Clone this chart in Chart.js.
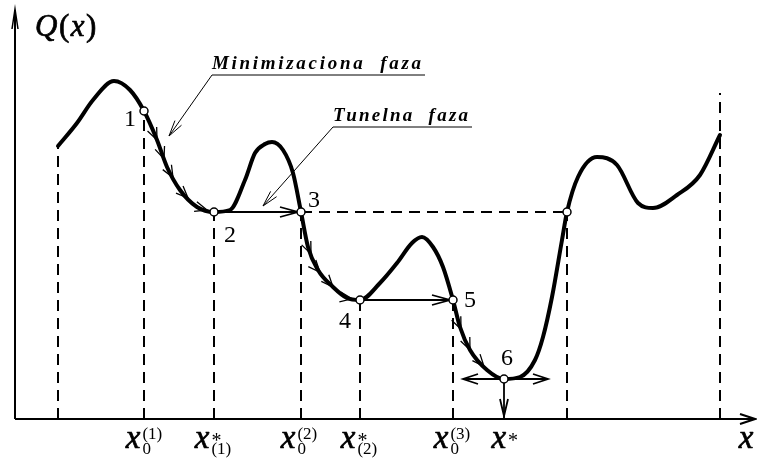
<!DOCTYPE html>
<html>
<head>
  <title>Q(x)</title>
  <style>
    body {
      margin: 0;
      overflow: hidden;
      background: #ffffff;
    }
    #chart-container {
      width: 757px;
      height: 459px;
    }
  </style>
</head>
<body>
  <div id="chart-container">
    <canvas id="chart"></canvas>
  </div>
  <script src="https://cdn.jsdelivr.net/npm/chart.js"></script>
  <script>
    // curve Q(x) (x from the Q axis, Q up from the x axis)
    const curveX = [43, 62, 78, 99, 115, 129, 142, 152, 165, 182, 199, 215, 230, 240, 250, 257, 268, 278, 286, 293, 303, 318, 332, 345, 365, 382, 397, 407, 418, 428, 438, 445, 455, 472, 489, 505, 520, 528, 537, 547, 552, 563, 582, 602, 623, 638, 662, 685, 705];
    const curveQ = [273, 296, 319, 338, 329, 308, 279, 252, 229, 212, 207, 209, 239, 266, 275, 277, 269, 246, 207, 172, 149, 132, 121, 119, 136, 156, 176, 182, 172, 152, 119, 92, 69, 49, 40, 42, 59, 82, 122, 179, 207, 242, 262, 254, 216, 211, 224, 244, 284];

    // points 1..6 and the point on the far slope
    const markX = [129, 199, 286, 345, 438, 489, 552];
    const markQ = [308, 207, 207, 119, 119, 40, 207];
    const markNames = ['1', '2', '3', '4', '5', '6'];
    const nameX = [115, 215, 299, 330, 455, 492];
    const nameQ = [301, 185, 220, 99, 120, 62];

    // dashed verticals
    const guideX = [43, 129, 199, 286, 345, 438, 552, 705];
    const guideTop = [273, 308, 207, 207, 119, 119, 207, 326];

    // x axis labels
    const tickX = [129, 198, 284, 344, 437, 489];
    const tickSup = ['(1)', '*', '(2)', '*', '(3)', '*'];
    const tickSub = ['0', '(1)', '0', '(2)', '0', ''];

    // little arrows along the descending parts
    const stepX = [142, 149, 158, 173, 192, 296, 305, 318, 337, 446, 455, 469];

    const guideData = [];
    guideX.forEach((gx, i) => {
      guideData.push({ x: gx, y: 0 }, { x: gx, y: guideTop[i] }, { x: gx, y: null });
    });

    const black = '#000000';
    const mathFont = 'italic 33px "Liberation Serif"';
    const smallFont = '17px "Liberation Serif"';

    function arrowHead(ctx, tx, ty, ang, len, half) {
      const c = Math.cos(ang), s = Math.sin(ang);
      ctx.beginPath();
      ctx.moveTo(tx - len * c - half * s, ty - len * s + half * c);
      ctx.lineTo(tx, ty);
      ctx.lineTo(tx - len * c + half * s, ty - len * s - half * c);
      ctx.stroke();
    }

    function line(ctx, x1, y1, x2, y2) {
      ctx.beginPath();
      ctx.moveTo(x1, y1);
      ctx.lineTo(x2, y2);
      ctx.stroke();
    }

    // slightly heavier glyphs, like the original math font
    function heavyText(ctx, s, x, y) {
      ctx.fillText(s, x, y);
      ctx.lineWidth = 0.7;
      ctx.strokeText(s, x, y);
    }

    const drawing = {
      id: 'drawing',
      beforeDatasetsDraw(chart) {
        const { ctx, scales: { x, y } } = chart;
        const px = v => x.getPixelForValue(v);
        const py = v => y.getPixelForValue(v);
        ctx.save();
        ctx.strokeStyle = black;
        ctx.lineCap = 'butt';

        // axes
        ctx.lineWidth = 2;
        line(ctx, px(0), py(0), px(739), py(0));
        arrowHead(ctx, px(740), py(0), 0, 15, 5);
        line(ctx, px(0), py(0), px(0), py(409));
        ctx.lineWidth = 1.5;
        arrowHead(ctx, px(0), py(410), -Math.PI / 2, 20, 3);

        // tunnelling arrows
        ctx.lineWidth = 1.8;
        line(ctx, px(markX[1]), py(markQ[1]), px(markX[2]), py(markQ[2]));
        arrowHead(ctx, px(markX[2]) - 3, py(markQ[2]), 0, 18, 5);
        line(ctx, px(markX[3]), py(markQ[3]), px(markX[4]), py(markQ[4]));
        arrowHead(ctx, px(markX[4]) - 3, py(markQ[4]), 0, 18, 5);

        // arrows around the global minimum
        line(ctx, px(markX[5] - 41), py(markQ[5]), px(markX[5] + 44), py(markQ[5]));
        arrowHead(ctx, px(markX[5] - 41), py(markQ[5]), Math.PI, 15, 5);
        arrowHead(ctx, px(markX[5] + 44), py(markQ[5]), 0, 15, 5);
        line(ctx, px(markX[5]), py(markQ[5]), px(markX[5]), py(0));
        arrowHead(ctx, px(markX[5]), py(3), Math.PI / 2, 17, 4);

        // small arrows on the curve
        ctx.lineWidth = 1.3;
        stepX.forEach(sx => {
          let i = 0;
          while (i < curveX.length - 2 && curveX[i + 1] < sx) i++;
          const x1 = px(curveX[i]), y1 = py(curveQ[i]);
          const x2 = px(curveX[i + 1]), y2 = py(curveQ[i + 1]);
          const t = (px(sx) - x1) / (x2 - x1);
          const ang = Math.atan2(y2 - y1, x2 - x1);
          arrowHead(ctx, x1 + t * (x2 - x1), y1 + t * (y2 - y1), ang, 12, 5);
        });
        ctx.restore();
      },
      afterDatasetsDraw(chart) {
        const { ctx, scales: { x, y } } = chart;
        const px = v => x.getPixelForValue(v);
        const py = v => y.getPixelForValue(v);
        ctx.save();
        ctx.fillStyle = black;
        ctx.strokeStyle = black;
        ctx.textBaseline = 'alphabetic';

        // Q(x)
        let cx = px(20);
        const qy = py(383);
        [['Q', 'italic'], ['(', 'normal'], ['x', 'italic'], [')', 'normal']].forEach(([s, st]) => {
          ctx.font = st + ' 31px "Liberation Serif"';
          heavyText(ctx, s, cx, qy);
          cx += ctx.measureText(s).width + 1.5;
        });

        // phase notes
        const notes = [
          { text: 'Minimizaciona  faza', x: 197, q: 350, end: 410, uq: 344, tx: 154, tq: 283 },
          { text: 'Tunelna  faza', x: 318, q: 298, end: 457, uq: 292, tx: 248, tq: 213 }
        ];
        notes.forEach(n => {
          ctx.font = 'italic bold 19px "Liberation Serif"';
          const target = px(n.end) - px(n.x) - 4;
          const w = ctx.measureText(n.text).width;
          ctx.letterSpacing = ((target - w) / (n.text.length - 1)).toFixed(2) + 'px';
          ctx.fillText(n.text, px(n.x), py(n.q));
          ctx.letterSpacing = '0px';
          ctx.lineWidth = 1;
          line(ctx, px(n.x), py(n.uq), px(n.end), py(n.uq));
          line(ctx, px(n.x), py(n.uq), px(n.tx), py(n.tq));
          const ang = Math.atan2(py(n.tq) - py(n.uq), px(n.tx) - px(n.x));
          arrowHead(ctx, px(n.tx), py(n.tq), ang, 16, 4);
        });

        // point numbers
        ctx.font = '24px "Liberation Serif"';
        ctx.textAlign = 'center';
        markNames.forEach((m, i) => {
          ctx.fillText(m, px(nameX[i]), py(nameQ[i]) + 8);
        });

        // tick labels
        ctx.textAlign = 'left';
        tickX.forEach((tx, i) => {
          ctx.font = mathFont;
          const wx = ctx.measureText('x').width;
          ctx.font = smallFont;
          const wSup = ctx.measureText(tickSup[i]).width;
          const wSub = ctx.measureText(tickSub[i]).width;
          const total = wx + 2 + Math.max(wSup, wSub);
          const left = px(tx) - total / 2;
          ctx.font = mathFont;
          heavyText(ctx, 'x', left, py(-29));
          ctx.font = tickSup[i] === '*' ? '20px "Liberation Serif"' : smallFont;
          ctx.fillText(tickSup[i], left + wx + 2, py(tickSup[i] === '*' ? -28 : -20));
          ctx.font = smallFont;
          ctx.fillText(tickSub[i], left + wx + 2, py(-35));
        });

        ctx.font = mathFont;
        ctx.textAlign = 'center';
        heavyText(ctx, 'x', px(731), py(-29));
        ctx.restore();
      }
    };

    const chart = new Chart(document.getElementById('chart'), {
      type: 'line',
      data: {
        datasets: [{
          label: 'points',
          data: markX.map((mx, i) => ({ x: mx, y: markQ[i] })),
          showLine: false,
          pointRadius: 4,
          pointBackgroundColor: '#ffffff',
          pointBorderColor: black,
          pointBorderWidth: 1.5
        }, {
          label: 'Q(x)',
          data: curveX.map((cx, i) => ({ x: cx, y: curveQ[i] })),
          borderColor: black,
          borderWidth: 4,
          cubicInterpolationMode: 'monotone',
          borderCapStyle: 'round',
          borderJoinStyle: 'round',
          pointRadius: 0
        }, {
          label: 'level',
          data: [{ x: markX[2], y: markQ[2] }, { x: markX[6], y: markQ[6] }],
          borderColor: black,
          borderWidth: 2,
          borderDash: [11, 7],
          pointRadius: 0
        }, {
          label: 'guides',
          data: guideData,
          borderColor: black,
          borderWidth: 2,
          borderDash: [11, 7],
          pointRadius: 0,
          spanGaps: false
        }]
      },
      options: {
        responsive: true,
        maintainAspectRatio: false,
        animation: false,
        events: [],
        layout: { padding: 0, autoPadding: false },
        plugins: {
          legend: { display: false },
          tooltip: { enabled: false }
        },
        scales: {
          x: { type: 'linear', min: -15, max: 742, display: false },
          y: { type: 'linear', min: -40, max: 419, display: false }
        }
      },
      plugins: [drawing]
    });
  </script>
</body>
</html>
